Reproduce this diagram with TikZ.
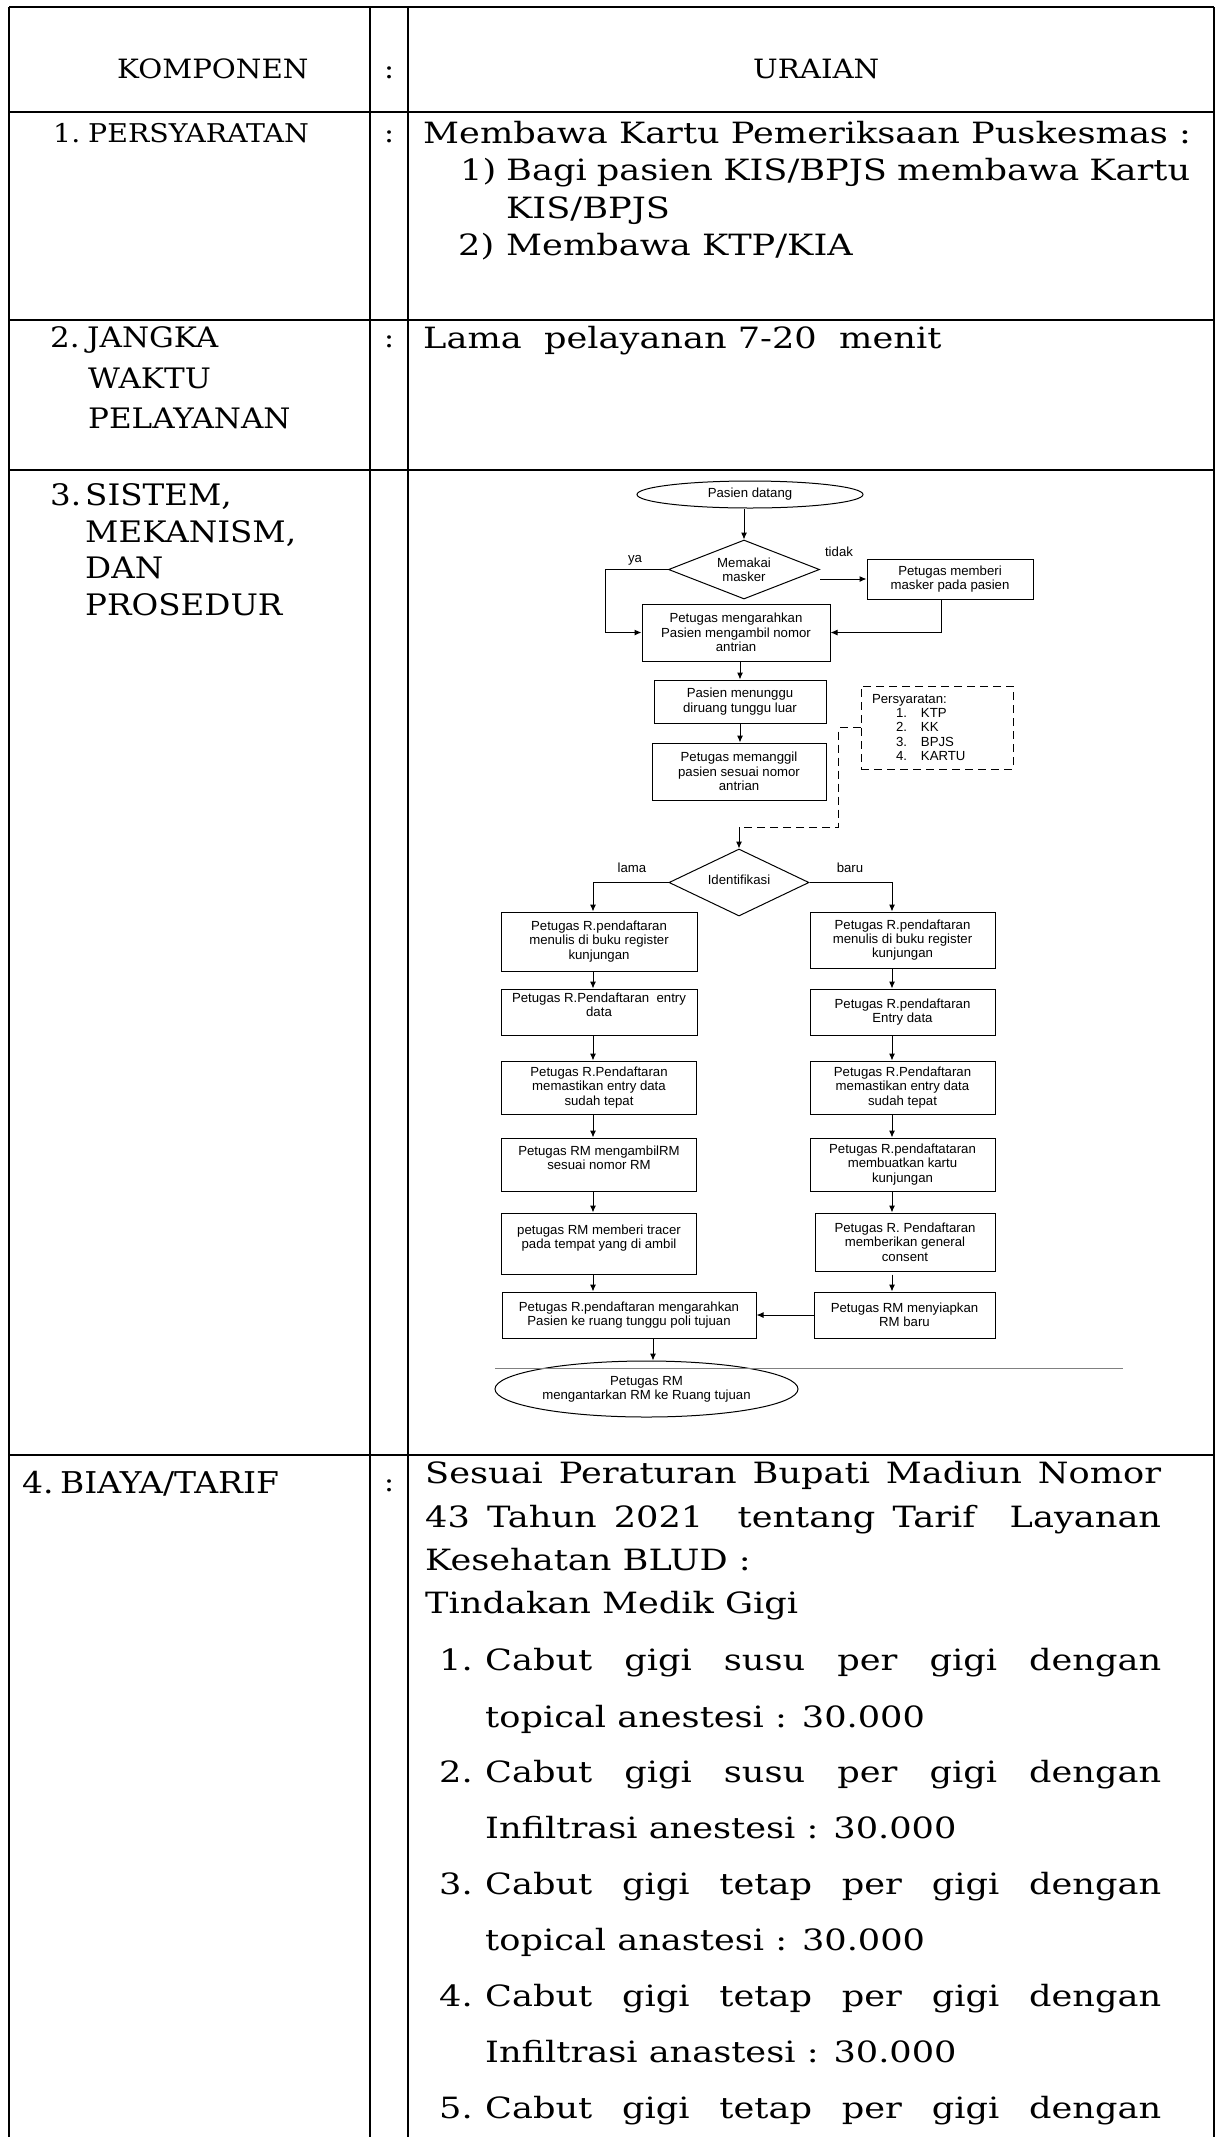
\documentclass[tikz,border=0pt]{standalone}
\usepackage{fontspec}
\setmainfont[FakeStretch=1.2]{DejaVu Serif}
\newfontfamily\capfont[FakeStretch=1.1]{DejaVu Serif}
\newfontfamily\flowfont{Liberation Sans}
\usetikzlibrary{shapes.geometric,arrows.meta}

\begin{document}
\begin{tikzpicture}[
   x=1pt, y=-1pt,
   grid/.style={line width=2pt},
   txt/.style={anchor=base west, inner sep=0pt, font=\fontsize{29.3}{34}\selectfont},
   kcol/.style={anchor=base west, inner sep=0pt, font=\capfont\fontsize{#1pt}{#1pt}\selectfont},
   colon/.style={anchor=base, inner sep=0pt, font=\capfont\fontsize{27}{32}\selectfont},
   flow/.style={font=\flowfont\fontsize{13.2}{14.3}\selectfont, align=center, inner xsep=2pt, inner ysep=0pt},
   box/.style={flow, draw, line width=1pt, rectangle},
   oval/.style={flow, draw, line width=1pt, ellipse, inner sep=0pt},
   decision/.style={flow, draw, line width=1pt, diamond, inner sep=0pt},
   arrow/.style={-{Latex[length=7pt,width=6pt]}, line width=1pt},
   dashline/.style={line width=1pt, dash pattern=on 8pt off 5pt},
   lbl/.style={flow, inner sep=0pt}
]
\useasboundingbox (0,0) rectangle (1219,2137);

% Table
\draw[grid] (9,7) -- (1214,7);
\draw[grid] (9,112) -- (1214,112);
\draw[grid] (9,320) -- (1214,320);
\draw[grid] (9,470) -- (1214,470);
\draw[grid] (9,1455) -- (1214,1455);
\draw[grid] (9,7) -- (9,2137);
\draw[grid] (370,7) -- (370,2137);
\draw[grid] (408,7) -- (408,2137);
\draw[grid] (1214,7) -- (1214,2137);

% Header
\node[kcol=26.6] (kom) at (117,78) {KOMPONEN};
\node[colon] (c0) at (389,78) {:};
\node[kcol=26.6] (ura) at (753,78) {URAIAN};

% Persyaratan
\node[kcol=25.8] (n1) at (53,142) {1.};
\node[kcol=25.8] (k1) at (88,142) {PERSYARATAN};
\node[colon] (c1) at (389,142) {:};
\node[txt] (u1a) at (423,143) {Membawa Kartu Pemeriksaan Puskesmas :};
\node[txt] (u1b) at (460,180) {1)};
\node[txt] (u1c) at (506,180) {\makebox[684pt][s]{Bagi pasien KIS/BPJS membawa Kartu}};
\node[txt] (u1d) at (506,218) {KIS/BPJS};
\node[txt] (u1e) at (458,255) {2)};
\node[txt] (u1f) at (506,255) {Membawa KTP/KIA};

% Jangka waktu
\node[kcol=28.2] (n2) at (50,347) {2.};
\node[kcol=28.2] (k2a) at (87,347) {JANGKA};
\node[kcol=28.2] (k2b) at (88,388) {WAKTU};
\node[kcol=28.2] (k2c) at (88,428) {PELAYANAN};
\node[colon] (c2) at (389,347) {:};
\node[txt] (u2) at (423,348) {Lama\ \ pelayanan 7-20\ \ menit};

% Sistem
\node[kcol=29.6] (n3) at (50,505) {3.};
\node[kcol=29.6] (k3a) at (85,505) {SISTEM,};
\node[kcol=29.6] (k3b) at (85,542) {MEKANISM,};
\node[kcol=29.6] (k3c) at (85,578) {DAN};
\node[kcol=29.6] (k3d) at (85,615) {PROSEDUR};

% Flowchart
\node[oval, minimum width=226pt, minimum height=27pt] (start) at (750,494.5) {Pasien datang};
\node[decision, minimum width=151pt, minimum height=59pt, shape aspect=2.5] (mask) at (744,569.5) {Memakai\\masker};
\node[box, minimum width=166pt, minimum height=40pt] (give) at (950,579) {Petugas memberi\\masker pada pasien};
\node[box, minimum width=188pt, minimum height=57pt] (direct) at (736,632.5) {Petugas mengarahkan\\Pasien mengambil nomor\\antrian};
\node[box, minimum width=172pt, minimum height=43pt] (wait) at (740,701.5) {Pasien menunggu\\diruang tunggu luar};
\node[box, minimum width=174pt, minimum height=57pt] (call) at (739,771.5) {Petugas memanggil\\pasien sesuai nomor\\antrian};
\node[box, dashline, align=left, text width=130pt, inner xsep=11pt, minimum height=83pt] (req) at (937,727.5)
   {Persyaratan:\\\hspace*{24pt}\makebox[25pt][l]{1.}KTP\\\hspace*{24pt}\makebox[25pt][l]{2.}KK\\\hspace*{24pt}\makebox[25pt][l]{3.}BPJS\\\hspace*{24pt}\makebox[25pt][l]{4.}KARTU};
\node[decision, minimum width=140pt, minimum height=67pt, shape aspect=2] (idf) at (739,882.5) {\raisebox{5pt}{Identifikasi}};
\coordinate (jn) at (739,827);
\coordinate (lx) at (593,0);
\coordinate (rx) at (892,0);
\coordinate (ex) at (653,0);

\node[box, minimum width=196pt, minimum height=59pt] (l1) at (599,941.5) {Petugas R.pendaftaran\\menulis di buku register\\kunjungan};
\node[box, minimum width=196pt, minimum height=46pt] (l2) at (599,1012) {Petugas R.Pendaftaran\ \ entry\\data\\ };
\node[box, minimum width=195pt, minimum height=53pt] (l3) at (599,1087.5) {Petugas R.Pendaftaran\\memastikan entry data\\sudah tepat};
\node[box, minimum width=195pt, minimum height=53pt] (l4) at (599,1164.5) {Petugas RM mengambilRM\\sesuai nomor RM\\ };
\node[box, minimum width=195pt, minimum height=61pt] (l5) at (599,1243.5) {petugas RM memberi tracer\\pada tempat yang di ambil\\ };
\node[box, minimum width=254pt, minimum height=46pt] (l6) at (629,1315) {Petugas R.pendaftaran mengarahkan\\Pasien ke ruang tunggu poli tujuan};

\node[box, minimum width=185pt, minimum height=56pt] (r1) at (902.5,940) {Petugas R.pendaftaran\\menulis di buku register\\kunjungan};
\node[box, minimum width=185pt, minimum height=46pt] (r2) at (902.5,1012) {Petugas R.pendaftaran\\Entry data};
\node[box, minimum width=185pt, minimum height=53pt] (r3) at (902.5,1087.5) {Petugas R.Pendaftaran\\memastikan entry data\\sudah tepat};
\node[box, minimum width=185pt, minimum height=53pt] (r4) at (902.5,1164.5) {Petugas R.pendaftataran\\membuatkan kartu\\kunjungan};
\node[box, minimum width=180pt, minimum height=58pt] (r5) at (905,1242) {Petugas R. Pendaftaran\\memberikan general\\consent};
\node[box, minimum width=181pt, minimum height=46pt] (r6) at (904.5,1315) {Petugas RM menyiapkan\\RM baru};

\node[oval, minimum width=303pt, minimum height=56pt] (end) at (646.5,1389) {Petugas RM\\mengantarkan RM ke Ruang tujuan};

\node[lbl] (ya) at (635,560) {ya};
\node[lbl] (tidak) at (839,552) {tidak};
\node[lbl] (lama) at (632,868) {lama};
\node[lbl] (baru) at (850,868) {baru};

\draw[arrow] (start.south -| mask.north) -- (mask.north);
\draw[arrow] (mask.west) -- ++(-63,0) |- (direct.west);
\draw[arrow] (give.west -| mask.east) -- (give.west);
\draw[arrow] ([xshift=-9pt]give.south) |- (direct.east);
\draw[arrow] (direct.south -| wait.north) -- (wait.north);
\draw[arrow] (wait.south) -- (wait.south |- call.north);
\draw[dashline] (req.west) -- ++(-22,0) |- (jn);
\draw[arrow] (jn) -- (idf.north);
\draw[arrow] (idf.west) -| (l1.north -| lx);
\draw[arrow] (idf.east) -| (r1.north -| rx);
\draw[arrow] (l1.south -| lx) -- (l2.north -| lx);
\draw[arrow] (l2.south -| lx) -- (l3.north -| lx);
\draw[arrow] (l3.south -| lx) -- (l4.north -| lx);
\draw[arrow] (l4.south -| lx) -- (l5.north -| lx);
\draw[arrow] (l5.south -| lx) -- (l6.north -| lx);
\draw[arrow] (r1.south -| rx) -- (r2.north -| rx);
\draw[arrow] (r2.south -| rx) -- (r3.north -| rx);
\draw[arrow] (r3.south -| rx) -- (r4.north -| rx);
\draw[arrow] (r4.south -| rx) -- (r5.north -| rx);
\draw[arrow] ([yshift=-3pt]r5.south -| rx) -- (r6.north -| rx);
\draw[arrow] (r6.west) -- (l6.east);
\draw[arrow] (l6.south -| ex) -- (end.north -| ex);
\draw[gray, line width=1pt] (495,1368) -- (1123,1368);

% Biaya
\node[kcol=30] (n4) at (22,1493) {4.};
\node[kcol=30] (k4) at (60,1493) {BIAYA/TARIF};
\node[colon] (c4) at (389,1491) {:};
\node[txt] (u4a) at (425,1483) {\makebox[736pt][s]{Sesuai Peraturan Bupati Madiun Nomor}};
\node[txt] (u4b) at (425,1527) {\makebox[736pt][s]{43 Tahun 2021\ \ tentang Tarif\ \ Layanan}};
\node[txt] (u4c) at (425,1570) {Kesehatan BLUD :};
\node[txt] (u4d) at (425,1613) {Tindakan Medik Gigi};
\node[txt] (i1) at (439,1670) {1.};
\node[txt] (i1a) at (485,1670) {\makebox[676pt][s]{Cabut gigi susu per gigi dengan}};
\node[txt] (i1b) at (485,1727) {topical anestesi : 30.000};
\node[txt] (i2) at (439,1782) {2.};
\node[txt] (i2a) at (485,1782) {\makebox[676pt][s]{Cabut gigi susu per gigi dengan}};
\node[txt] (i2b) at (485,1838) {Infiltrasi anestesi : 30.000};
\node[txt] (i3) at (439,1894) {3.};
\node[txt] (i3a) at (485,1894) {\makebox[676pt][s]{Cabut gigi tetap per gigi dengan}};
\node[txt] (i3b) at (485,1950) {topical anastesi : 30.000};
\node[txt] (i4) at (439,2006) {4.};
\node[txt] (i4a) at (485,2006) {\makebox[676pt][s]{Cabut gigi tetap per gigi dengan}};
\node[txt] (i4b) at (485,2062) {Infiltrasi anastesi : 30.000};
\node[txt] (i5) at (439,2118) {5.};
\node[txt] (i5a) at (485,2118) {\makebox[676pt][s]{Cabut gigi tetap per gigi dengan}};

\end{tikzpicture}
\end{document}
